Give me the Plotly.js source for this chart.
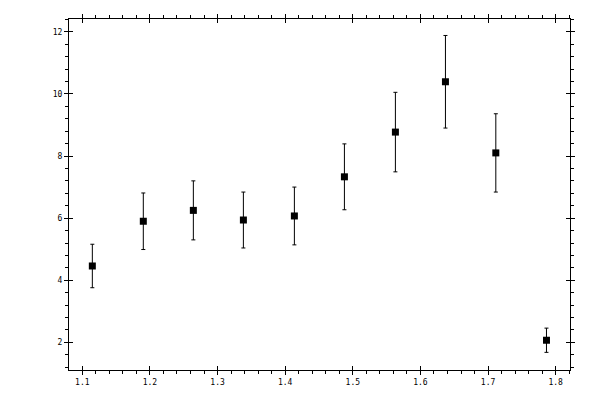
<!DOCTYPE html>
<html><head><meta charset="utf-8">
<script src="https://cdn.plot.ly/plotly-3.0.1.min.js"></script>
<style>body{margin:0;padding:0;background:#fff}#chart{width:600px;height:400px}</style>
</head><body><div id="chart"></div>
<script>
const xValues = [1.1148, 1.1902, 1.2642, 1.3382, 1.4136, 1.4876, 1.5630, 1.6370, 1.7115, 1.7864];
const yValues = [4.46, 5.90, 6.25, 5.94, 6.07, 7.33, 8.77, 10.39, 8.10, 2.07];
const yErrors = [0.70, 0.91, 0.95, 0.90, 0.93, 1.06, 1.28, 1.49, 1.26, 0.39];

const xRange = [1.0803, 1.8212];
const yRange = [1.112, 12.41];
const font = {family: 'DejaVu Sans Mono', size: 8, color: '#000'};

const trace = {
  x: xValues, y: yValues, type: 'scatter', mode: 'markers',
  marker: {symbol: 'square', size: 7, color: '#000'},
  error_y: {type: 'data', array: yErrors, visible: true, color: '#000', thickness: 1, width: 2},
  hoverinfo: 'none', showlegend: false
};
// invisible trace to activate overlay axes
const dummy = {x: [xRange[0]], y: [yRange[0]], xaxis: 'x2', yaxis: 'y2', mode: 'markers',
  marker: {opacity: 0}, showlegend: false, hoverinfo: 'none'};

const baseX = {range: xRange, dtick: 0.1, tick0: 1.1, showgrid: false, zeroline: false,
  showline: true, linecolor: '#000', linewidth: 1, mirror: 'allticks',
  ticks: 'outside', ticklen: 4, tickwidth: 1, tickcolor: '#000', tickfont: font,
  minor: {dtick: 0.02, tick0: 1.1, ticks: 'outside', ticklen: 3, tickwidth: 1, tickcolor: '#000', showgrid: false}};
const baseY = {range: yRange, dtick: 2, tick0: 0, showgrid: false, zeroline: false,
  showline: true, linecolor: '#000', linewidth: 1, mirror: 'allticks',
  ticks: 'outside', ticklen: 4, tickwidth: 1, tickcolor: '#000', tickfont: font,
  minor: {dtick: 0.4, tick0: 0, ticks: 'outside', ticklen: 3, tickwidth: 1, tickcolor: '#000', showgrid: false}};

const layout = {
  width: 600, height: 400,
  margin: {l: 69, r: 30, t: 19, b: 30, pad: 0},
  paper_bgcolor: '#fff', plot_bgcolor: '#fff',
  xaxis: baseX,
  yaxis: baseY,
  xaxis2: {overlaying: 'x', range: xRange, dtick: 0.1, tick0: 1.1, showgrid: false, zeroline: false,
    showline: false, mirror: 'allticks', ticks: 'inside', ticklen: 4, tickwidth: 1, tickcolor: '#000',
    showticklabels: false},
  yaxis2: {overlaying: 'y', range: yRange, dtick: 2, tick0: 0, showgrid: false, zeroline: false,
    showline: false, mirror: 'allticks', ticks: 'inside', ticklen: 4, tickwidth: 1, tickcolor: '#000',
    showticklabels: false},
  font: font
};
Plotly.newPlot('chart', [trace, dummy], layout, {staticPlot: true});
</script></body></html>
